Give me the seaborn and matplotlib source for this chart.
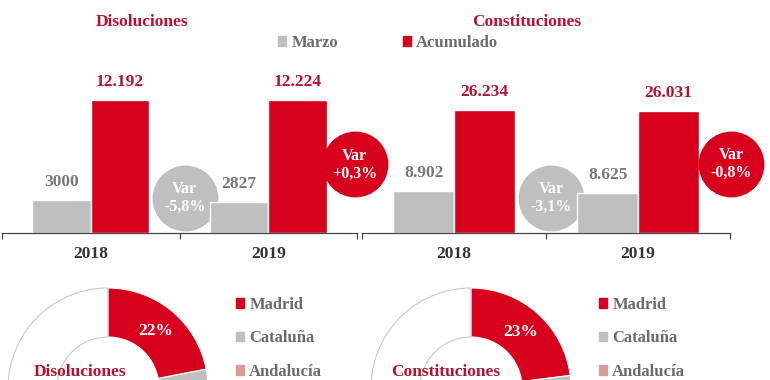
import numpy as np
import pandas as pd
import matplotlib
matplotlib.use('Agg')
import matplotlib.pyplot as plt
import seaborn as sns
from matplotlib.patches import Patch

sns.set_style('white')
plt.rcParams['font.family'] = ['Liberation Serif', 'DejaVu Serif']
plt.rcParams['font.weight'] = 'bold'

# datos
years = ['2018', '2019']
series = ['Marzo', 'Acumulado']
disol_marzo = [3000, 2827]
disol_acum = [12192, 12224]
disol_marzo_lbl = ['3000', '2827']
disol_acum_lbl = ['12.192', '12.224']
const_marzo = [8902, 8625]
const_acum = [26234, 26031]
const_marzo_lbl = ['8.902', '8.625']
const_acum_lbl = ['26.234', '26.031']

regiones = ['Madrid', 'Cataluña', 'Andalucía', 'Resto']
disol_reg = [22, 18, 14, 46]
const_reg = [23, 17, 13, 47]

RED = '#D7001D'
GRAY = '#BFBFBF'
SALMON = '#D99A94'
TITLE_RED = '#B5122F'
TXT_GRAY = '#777777'
LEG_GRAY = '#6B6B6B'

W, H = 770, 380
fig = plt.figure(figsize=(W / 100, H / 100), dpi=100)


def box(x0, y0, x1, y1):
    # caja en pixeles (origen arriba-izquierda) -> fraccion de figura
    return [x0 / W, 1 - y1 / H, (x1 - x0) / W, (y1 - y0) / H]


def var_txt(a, b):
    return 'Var\n' + f'{(b - a) / a * 100:+.1f}%'.replace('.', ',')


def bar_panel(rect, marzo, acum, m_lbl, a_lbl, ytop, circ):
    ax = fig.add_axes(box(*rect))
    ax.patch.set_alpha(0)
    df = pd.DataFrame({'year': years * 2,
                       'serie': [series[0]] * 2 + [series[1]] * 2,
                       'valor': marzo + acum})
    sns.barplot(data=df, x='year', y='valor', hue='serie', ax=ax,
                palette=[GRAY, RED], width=0.66, gap=0, saturation=1,
                legend=False, zorder=2)
    ax.set_xlim(-0.5, 1.5)
    ax.set_ylim(0, ytop)
    for s in ['top', 'right', 'left']:
        ax.spines[s].set_visible(False)
    ax.spines['bottom'].set_color('#444444')
    ax.spines['bottom'].set_linewidth(0.9)
    ax.set_yticks([])
    ax.set_xlabel('')
    ax.set_ylabel('')
    ax.tick_params(axis='x', which='major', length=0, pad=9,
                   labelsize=12.5, labelcolor='#333333')
    ax.set_xticks([-0.5, 0.5, 1.5], minor=True)
    ax.tick_params(axis='x', which='minor', bottom=True, length=4.5,
                   width=0.9, color='#444444', direction='out')
    for lbl in ax.get_xticklabels():
        lbl.set_fontweight('bold')

    # etiquetas de valor
    for cont, labels, col in zip(ax.containers, [m_lbl, a_lbl],
                                 [TXT_GRAY, TITLE_RED]):
        for bar, t in zip(cont, labels):
            ax.annotate(t, (bar.get_x() + bar.get_width() / 2, bar.get_height()),
                        xytext=(0, 13), textcoords='offset points',
                        ha='center', va='center', fontsize=12.5,
                        fontweight='bold', color=col)

    # circulos de variacion
    (gx, gy), (rx, ry) = circ
    ax.scatter([gx], [gy], s=2250, color=GRAY, transform=ax.transAxes,
               clip_on=False, zorder=1, linewidths=0)
    ax.scatter([rx], [ry], s=2250, color=RED, transform=ax.transAxes,
               clip_on=False, zorder=5, linewidths=0)
    ax.text(gx, gy, var_txt(marzo[0], marzo[1]), transform=ax.transAxes,
            ha='center', va='center', color='white', fontsize=11.5,
            fontweight='bold', linespacing=1.15, zorder=6)
    ax.text(rx, ry, var_txt(acum[0], acum[1]), transform=ax.transAxes,
            ha='center', va='center', color='white', fontsize=11.5,
            fontweight='bold', linespacing=1.15, zorder=6, clip_on=False)
    return ax


ax1 = bar_panel((2, 60, 357, 233), disol_marzo, disol_acum,
                disol_marzo_lbl, disol_acum_lbl, 15860,
                [(0.515, 0.202), (0.994, 0.396)])
ax2 = bar_panel((362, 60, 730, 233), const_marzo, const_acum,
                const_marzo_lbl, const_acum_lbl, 36900,
                [(0.514, 0.202), (1.003, 0.399)])
fig.text(142 / W, 1 - 22 / H, 'Disoluciones', color=TITLE_RED, fontsize=12.5,
         fontweight='bold', ha='center', va='center')
fig.text(527 / W, 1 - 22 / H, 'Constituciones', color=TITLE_RED, fontsize=12.5,
         fontweight='bold', ha='center', va='center')

h = [Patch(color=GRAY), Patch(color=RED)]
leg = fig.legend(h, series, ncol=2, loc='center left',
                 bbox_to_anchor=(278 / W, 1 - 43 / H), frameon=False,
                 fontsize=12, handlelength=0.5, handleheight=0.5,
                 handletextpad=0.3, columnspacing=3.9, borderpad=0,
                 borderaxespad=0)
for t in leg.get_texts():
    t.set_color(LEG_GRAY)


def donut(cx, vals, name, name_x, leg_x):
    ax = fig.add_axes(box(cx - 100, 288, cx + 100, 488))
    ax.patch.set_alpha(0)
    wedges, _ = ax.pie(vals, colors=[RED, GRAY, SALMON, 'white'],
                       startangle=90, counterclock=False,
                       wedgeprops=dict(width=0.49, linewidth=0.8))
    for wd, ec in zip(wedges, ['white', 'white', 'white', '#C8C8C8']):
        wd.set_edgecolor(ec)
    ax.set_xlim(-1, 1)
    ax.set_ylim(-1, 1)
    ax.set_aspect('equal')
    w0 = wedges[0]
    ang = np.deg2rad((w0.theta1 + w0.theta2) / 2)
    pct = vals[0] / sum(vals) * 100
    ax.text(0.745 * np.cos(ang), 0.745 * np.sin(ang), f'{pct:.0f}%',
            color='white', fontsize=12.5, fontweight='bold',
            ha='center', va='center')
    fig.text(name_x / W, 1 - 380 / H, name, color=TITLE_RED, fontsize=12.5,
             fontweight='bold', ha='center', va='bottom')
    hh = [Patch(color=c) for c in [RED, GRAY, SALMON]]
    lg = fig.legend(hh, regiones[:3], loc='upper left',
                    bbox_to_anchor=(leg_x / W, 1 - 297 / H), frameon=False,
                    fontsize=12, handlelength=0.5, handleheight=0.5,
                    handletextpad=0.3, labelspacing=1.05, borderpad=0,
                    borderaxespad=0)
    for t in lg.get_texts():
        t.set_color(LEG_GRAY)


donut(108, disol_reg, 'Disoluciones', 80, 236)
donut(471, const_reg, 'Constituciones', 446, 599)

fig.savefig('out.png', dpi=100)
